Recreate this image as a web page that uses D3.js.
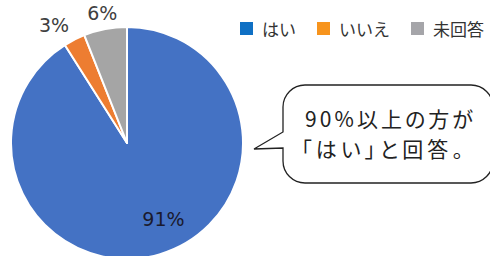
<!DOCTYPE html>
<html>
<head>
<meta charset="utf-8">
<script src="https://cdn.jsdelivr.net/npm/d3@7"></script>
<style>
  body { margin: 0; background: #fff; }
  svg { display: block; }
  .call { font-feature-settings: "palt"; }
</style>
</head>
<body>
<svg id="chart" width="490" height="256"></svg>
<script>
// chart data
var categories = ["はい", "いいえ", "未回答"];
var values = [91, 3, 6];
var pieColors = ["#4472C4", "#ED7D31", "#A5A5A5"];
var legendColors = ["#0F70C4", "#F7941D", "#A5A5A9"];
var calloutLines = ["90%以上の方が", "「はい」と回答。"];

var svg = d3.select("#chart");
var cx = 127, cy = 143, r = 116;

var pie = d3.pie().sort(null).value(function (d) { return d; });
var arcs = pie(values);
var arc = d3.arc().innerRadius(0).outerRadius(r);
var outerLabel = d3.arc().innerRadius(132).outerRadius(132);
var innerLabel = d3.arc().innerRadius(84).outerRadius(84);
// small nudges like excel's label placement
var labelShift = [[13, -5], [-13, 0], [0, 0]];

var g = svg.append("g").attr("transform", "translate(" + cx + "," + cy + ")");
g.selectAll("path")
    .data(arcs)
    .enter()
    .append("path")
    .attr("d", arc)
    .attr("fill", function (d, i) { return pieColors[i]; })
    .attr("stroke", "#fff")
    .attr("stroke-width", 2)
    .attr("stroke-linejoin", "round");

g.selectAll("text.lbl")
    .data(arcs)
    .enter()
    .append("text")
    .attr("class", "lbl")
    .attr("transform", function (d, i) {
        var p = i === 0 ? innerLabel.centroid(d) : outerLabel.centroid(d);
        p[0] += labelShift[i][0];
        p[1] += labelShift[i][1];
        return "translate(" + p + ")";
    })
    .attr("text-anchor", "middle")
    .attr("dy", "0.36em")
    .attr("font-family", "DejaVu Sans, sans-serif")
    .attr("font-size", 19)
    .attr("fill", function (d, i) { return i === 0 ? "#1a1a2e" : "#404040"; })
    .text(function (d) { return d.data + "%"; });

// legend
var legendX = [240, 317, 411];
var legend = svg.selectAll("g.leg")
    .data(categories)
    .enter()
    .append("g")
    .attr("class", "leg")
    .attr("transform", function (d, i) { return "translate(" + legendX[i] + ",22)"; });
legend.append("rect")
    .attr("width", 13)
    .attr("height", 13)
    .attr("fill", function (d, i) { return legendColors[i]; });
legend.append("text")
    .attr("x", 22)
    .attr("y", 14)
    .attr("font-family", "Noto Sans CJK JP, sans-serif")
    .attr("font-size", 17)
    .attr("fill", "#333")
    .text(function (d) { return d; });

// callout bubble
var bx = 283, by = 85, bw = 210, bh = 98, br = 22;
var path = d3.path();
path.moveTo(bx + br, by);
path.lineTo(bx + bw - br, by);
path.arcTo(bx + bw, by, bx + bw, by + br, br);
path.lineTo(bx + bw, by + bh - br);
path.arcTo(bx + bw, by + bh, bx + bw - br, by + bh, br);
path.lineTo(bx + br, by + bh);
path.arcTo(bx, by + bh, bx, by + bh - br, br);
path.lineTo(bx, 148);
path.lineTo(254, 149);
path.lineTo(bx, 132);
path.lineTo(bx, by + br);
path.arcTo(bx, by, bx + br, by, br);
path.closePath();
svg.append("path")
    .attr("d", path.toString())
    .attr("fill", "#fff")
    .attr("stroke", "#222")
    .attr("stroke-width", 1.3);

var lineWidths = [168, 162];
svg.selectAll("text.call")
    .data(calloutLines)
    .enter()
    .append("text")
    .attr("class", "call")
    .attr("x", function (d, i) { return i === 0 ? 305 : 301; })
    .attr("y", function (d, i) { return 127 + i * 30; })
    .attr("font-family", "Noto Sans CJK JP, sans-serif")
    .attr("font-size", 21)
    .attr("textLength", function (d, i) { return lineWidths[i]; })
    .attr("lengthAdjust", "spacing")
    .attr("fill", "#222")
    .text(function (d) { return d; });
</script>
</body>
</html>
